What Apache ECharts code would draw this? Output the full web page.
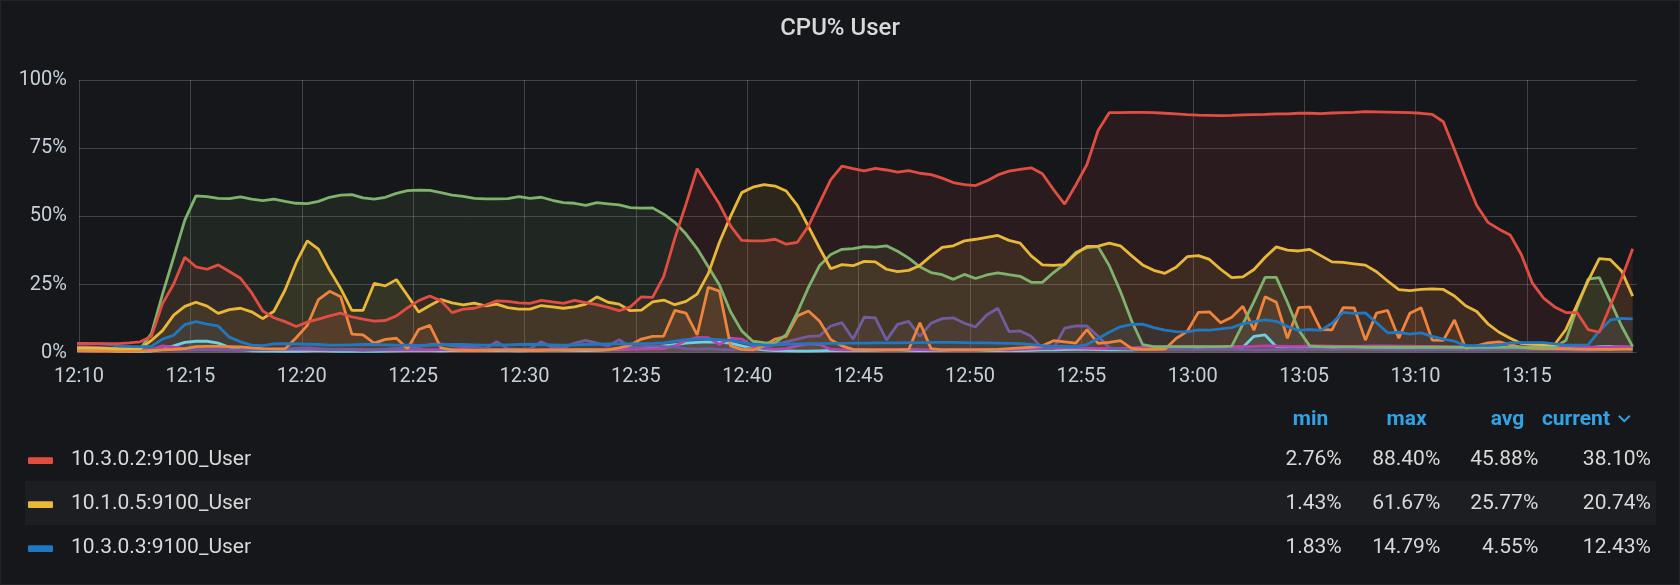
<!DOCTYPE html>
<html>
<head>
<meta charset="utf-8">
<script src="https://cdn.jsdelivr.net/npm/echarts@6/dist/echarts.min.js"></script>
<style>
html,body{margin:0;padding:0;background:#16171a;}
#c{width:1680px;height:585px;}
</style>
</head>
<body>
<div id="c"></div>
<script>
// ---- data (values in %, one sample every 30 s starting 12:09:45) ----
const xTickLabels = ['12:10','12:15','12:20','12:25','12:30','12:35','12:40','12:45','12:50','12:55','13:00','13:05','13:10','13:15'];

const red = [3.4,3.4,3.3,3.3,3.3,3.6,4.0,6.0,18.0,25.2,
35,31.5,30.6,32.2,29.8,27.3,22,15.3,12.8,11.4,
9.6,11.2,12.3,13.5,14.5,13.1,12.3,11.6,11.8,13.5,
16.5,19.1,20.8,19,14.7,16,16.3,17.5,19,18.8,
18.3,18.1,19.2,18.6,18.1,19.2,18.4,17.6,16.6,15.4,
16.8,20.5,20.3,28,42,54.5,67.5,61,54.5,46.5,
41.2,41,41,41.6,39.8,40.5,46.5,55,63.5,68.4,
67.5,66.7,67.6,67,66.2,66.8,65.8,65.3,64,62.4,
61.6,61.3,63,65.2,66.6,67.2,67.8,65.6,59.8,54.5,
61.5,69,81.5,88,88,88.1,88.1,88,87.8,87.6,
87.3,87.1,87,86.9,87,87.2,87.3,87.4,87.6,87.6,
87.8,87.8,87.7,87.9,88,88.1,88.4,88.3,88.2,88.1,
88,87.8,87.4,84.7,74.5,64,54,47.8,45.3,43.2,
36,25.5,20,16.8,14.7,14.7,8.5,7.5,17.2,27.2,38.1];

const yellow = [1.8,1.8,1.7,1.6,1.43,1.5,1.5,4.5,8.1,13.8,
17.0,18.5,17.1,14.4,15.8,16.3,15.0,12.5,15.2,23.0,
33,41,38,30.3,23.5,15.5,15.5,25.4,24.5,26.8,
21,14.9,17.3,19.5,18.3,17.5,18.2,17.2,17.8,16.5,
16,16,17.3,16.8,16.3,16.8,17.8,20.5,18.5,17.8,
15.4,15.6,18.6,19.3,17.6,18.8,21.5,29,40.5,50,
58.7,60.7,61.67,61.1,59.3,54,46.2,38.3,30.8,32.3,
31.9,33.5,33.3,30.6,29.7,30.2,32,35.5,38.6,39.2,
41,41.6,42.3,43,41.2,40.2,35.5,32.2,32,32.3,
36.3,39,39.1,40.2,39.2,35.6,32.2,30.2,29.1,31.3,
35.2,35.6,34.2,30.6,27.5,27.8,30.5,35,38.8,37.6,
37.3,37.9,35.6,33.3,33.1,32.6,32.1,29.7,26.3,23.1,
22.8,23.2,23.4,23.2,20.8,17.2,15.1,10.6,7.5,5.3,
3.4,3.1,3,3,8.5,17.6,26.3,34.5,34.1,30,20.74];

const blue = [3.3,3.3,3.3,3.1,2.5,2.3,2.2,2.3,5.0,6.4,
10.3,11.4,10.5,9.8,5.7,4,2.8,2.6,3.2,3.3,
3.2,3.1,3,2.8,2.8,2.9,3.0,3.0,2.9,2.8,
2.8,2.7,2.8,2.9,3,3,2.9,2.8,2.8,2.9,
3,3.1,3,2.9,2.8,2.9,3,3.1,3.2,3.2,
3.2,3.3,3.4,3.6,4.2,4.8,5,5,4.8,4.5,
3.8,3,2.8,2.9,3.1,3.2,3.3,3.3,3.4,3.4,
3.5,3.5,3.6,3.6,3.6,3.7,3.7,3.8,3.8,3.8,
3.7,3.6,3.6,3.5,3.4,3.3,3,2.6,2.4,2.3,
2.2,3,5.2,7.5,9.5,10.4,10.5,9.2,8.3,7.7,
7.6,8.4,8.3,8.7,9.2,10.6,11.4,12,11.5,9.6,
8.2,8.5,8.2,10.8,14.79,14.4,14.6,11,7.3,7.5,
6.8,7.3,6,5,4.2,2.6,2.6,2.6,2.8,3.6,
3.7,3.7,3.7,3.2,2.8,2.8,2.9,8,12,12.6,12.43];

const green = [1.5,1.5,1.5,1.4,1.4,1.4,1.5,7,21.5,35,
48.6,57.5,57.2,56.6,56.5,57.1,56.3,55.8,56.3,55.5,
54.8,54.7,55.5,57,57.8,58,56.8,56.3,57,58.4,
59.4,59.6,59.5,58.7,57.8,57.3,56.6,56.4,56.4,56.5,
57.2,56.6,57,55.9,55,54.8,54,55,54.6,54.2,
53.2,53,53.1,50.8,47.8,43.5,38.2,31.5,24.8,15,
8,4.2,3.7,3.6,6.6,14.8,24,32,36,37.9,
38.2,38.9,38.7,39.2,37.2,34.7,31.5,29.4,28.6,26.9,
28.7,27.2,28.5,29.3,28.6,28,25.8,25.8,29.4,32.5,
36.8,38.5,38.9,32,22.5,11.8,3,2.2,2.2,2.2,
2.2,2.2,2.2,2.2,2.4,10.5,18.8,27.6,27.6,18.5,
8.4,2.5,2.2,2.1,2.1,2.1,2,2,2,2,
2,2,2,2,2,2,2,2,2,2,
2,2,2,2,4.5,16.5,27,27.5,18.8,9.8,2.2];

const orange = [0.8,0.7,0.6,0.6,0.5,0.5,0.6,0.8,1.0,1.2,
1.5,2.2,2.3,2.3,2.2,2.1,1.8,1.5,1.4,1.4,
5.5,10,19.5,22.5,20.5,6.8,6.5,3.5,4.9,5.3,
1.5,8.5,10,1.8,1,0.9,0.8,0.9,1,1,
1,0.9,0.9,1,1,1.1,1.1,1,1.1,1.8,
2.8,5,6,6.1,15.5,14.5,6.5,24,22.6,2.5,
1.2,1,2.5,5,6,13.5,15.3,11.5,4.8,2.5,
1.2,1.1,1,1,1,1.2,11,1.5,1,1,
1,1,1.1,1.2,1.5,1.8,2,2.5,4.4,4,
3.5,8.5,3.4,3.8,4.4,1.6,1.2,1.2,1.3,5.2,
7.8,14.8,15,11,13,17,8.3,20.5,18.5,5.3,
16.5,16.8,8.5,8.4,16.5,16.4,4.6,14.5,15.5,5.3,
14.5,16.5,4.6,4.5,12,1.6,2.5,3.6,4,3,
2,1.6,1.5,1.5,1.4,1.3,1.2,1.2,1.2,1.3,1.3];

const purple = [0.5,0.5,0.6,0.8,1,1,1.2,1.5,1.2,1,
1,1,1.3,1.2,1,0.9,1,1.1,1.2,1.4,
1.6,1.8,1.5,1.2,1,1,0.9,1,1.2,1.6,
1.8,2.2,3,3.2,2.5,2.2,2,1.5,4,1.5,
1.2,1.5,4,2,1.8,3.5,4.5,3.5,2.5,4.8,
2,2.2,2.5,2.2,2,1.5,1.3,1.5,1.2,1,
1.2,1.5,2,3,4,5,6,6.2,9.8,11,
5,13,12.8,4.6,10.4,11.5,6,10.8,12.5,12.8,
10.8,9.5,13.8,16.3,7.7,8,6,1.6,1.6,9,
9.8,9.8,6,1.8,1.4,1.3,1.2,1.2,1.3,1.2,
1.2,1.1,1.2,1.3,1.2,1.1,1,1,1.1,1.2,
1.2,1.3,1.2,1.1,1.2,1.3,1.2,1.1,1,1,
1,1.1,1,1.2,1.1,1,1,1.1,1.2,1.2,
1.3,1.2,1.1,1,1,0.9,0.9,1,1.2,1.4,1.5];

const magenta = [2.2,2.1,2,1.8,1.5,1.3,1.2,1.2,2.5,2,
1.5,1.2,1.1,1,1,1,1.1,1.1,1.2,1.2,
1.3,1.2,1.1,1,1.1,1.2,1.1,1,1,1,
1,1,1,1.1,1.2,1.3,1.3,1.2,1.1,1,
1,1,1.1,1.2,1,1,1.1,1.2,1.3,1.2,
1.2,1.3,1.4,1.5,2.5,4.5,5.6,5.5,3,5.3,
5,2.5,1.5,1.2,1.5,2.5,3.2,3,1.2,1,
1,1,1,1.1,1.2,1.2,1.1,1,1,1,
1,1.1,1.2,1.1,1,1.2,1.4,1.5,1.6,1.8,
1.8,1.7,1.6,1.5,1.6,1.8,2,2.1,2.1,2.2,
2.2,2.2,2.1,2.2,2.3,2.2,2.3,2.5,2.4,2.3,
2.3,2.4,2.5,2.4,2.3,2.3,2.4,2.5,2.5,2.4,
2.4,2.3,2.3,2.2,2.1,2,2,2.2,2.1,2,
2,2,2.1,2.2,2.5,2.2,2,2,2.1,2.3,2.2];

const lightBlue = [1.2,1.2,1,0.8,0.5,0.4,0.4,0.6,1.2,2.5,
3.8,4.2,4.2,3.5,2,1,0.7,0.6,0.6,0.5,
0.5,0.6,0.8,0.6,0.5,0.5,0.6,0.5,0.6,0.7,
0.8,0.9,0.8,0.7,0.8,0.9,1,0.9,0.8,0.8,
0.7,0.8,0.9,1,0.9,0.8,0.8,0.9,1,1.2,
1.5,1.8,2,2.5,3,3.5,3.8,4,3.8,3.5,
2.5,1.5,1,0.8,0.7,0.6,0.6,0.7,0.8,0.8,
0.8,0.8,0.9,1,1,0.9,0.8,0.8,0.9,1,
1,1,0.9,0.8,0.8,0.8,0.9,1,1,1.1,
1.2,1.2,1.1,1,1,1,1.2,1.4,1.5,1.5,
1.6,1.7,1.8,1.9,2,2,6,6.5,2.2,1.9,
2,1.8,1.7,1.6,1.7,1.8,1.7,1.6,1.5,1.5,
1.5,1.6,1.5,1.4,1.3,1.4,1.5,1.6,1.7,1.8,
1.8,1.7,1.6,1.5,1.5,1.6,1.7,2.2,2.3,2,1.8];

// legend table
const legendNames = ['10.3.0.2:9100_User','10.1.0.5:9100_User','10.3.0.3:9100_User'];
const legendColors = ['#E24D42','#EAB839','#1F78C1'];
const statMin = ['2.76%','1.43%','1.83%'];
const statMax = ['88.40%','61.67%','14.79%'];
const statAvg = ['45.88%','25.77%','4.55%'];
const statCurrent = ['38.10%','20.74%','12.43%'];
const statHeaders = ['min','max','avg','current'];

// minutes after 12:10 for each sample
const minutes = red.map((_, i) => -0.25 + 0.5 * i);

const seriesDefs = [
  {name:'10.2.0.9:9100_User', color:'#6ED0E0', data: lightBlue},
  {name:'10.2.0.4:9100_User', color:'#BA43A9', data: magenta},
  {name:'10.1.0.7:9100_User', color:'#705DA0', data: purple},
  {name:'10.1.0.3:9100_User', color:'#EF843C', data: orange},
  {name:'10.1.0.2:9100_User', color:'#7EB26D', data: green},
  {name:'10.1.0.5:9100_User', color:'#EAB839', data: yellow},
  {name:'10.3.0.3:9100_User', color:'#1F78C1', data: blue},
  {name:'10.3.0.2:9100_User', color:'#E24D42', data: red}
];

const chart = echarts.init(document.getElementById('c'), null, {renderer:'canvas'});

const gridLeft = 79, gridRight = 43.3, gridTop = 80, gridBottom = 232.3;
const FONT = 'Roboto, "Noto Sans", sans-serif';
const gridColor = 'rgba(255,255,255,0.19)';

// legend graphics
const graphics = [];
graphics.push({type:'rect', shape:{x:0.5,y:0.5,width:1679,height:584}, style:{fill:'none', stroke:'#222428', lineWidth:1}, silent:true});
const rowC = [459.5, 503.5, 547.5];
graphics.push({type:'rect', shape:{x:25,y:481,width:1631,height:44}, style:{fill:'#1d1e22'}, silent:true, z:-1});
const valRight = [1341.7, 1440.3, 1538.3, 1651];
const headRight = [1328.3, 1426.7, 1524.3, 1610];
statHeaders.forEach((h, k) => {
  graphics.push({type:'text', x: headRight[k], y: 419.8, style:{text:h, fill:'#33a2e5', font:'bold 21px ' + FONT, textAlign:'right', textVerticalAlign:'middle'}});
});
graphics.push({type:'polyline', shape:{points:[[1618.8,415.8],[1624.3,421.2],[1629.8,415.8]]}, style:{stroke:'#33a2e5', lineWidth:2, fill:'none'}});
legendNames.forEach((n, r) => {
  const c = rowC[r];
  graphics.push({type:'rect', shape:{x:28, y:c-2.2, width:25, height:6.6, r:1}, style:{fill:legendColors[r]}});
  graphics.push({type:'text', x:71, y:c, style:{text:n, fill:'#d8d9da', font:'21px ' + FONT, textVerticalAlign:'middle'}});
  [statMin[r], statMax[r], statAvg[r], statCurrent[r]].forEach((v, k) => {
    graphics.push({type:'text', x:valRight[k], y:c, style:{text:v, fill:'#d8d9da', font:'21px ' + FONT, textAlign:'right', textVerticalAlign:'middle'}});
  });
});

const option = {
  backgroundColor: '#16171a',
  animation: false,
  title: {
    text: 'CPU% User', left: 'center', top: 12,
    textStyle: {color:'#d8d9da', fontSize:24, fontWeight:500, fontFamily: FONT}
  },
  grid: {left: gridLeft, right: gridRight, top: gridTop, bottom: gridBottom, containLabel: false},
  xAxis: {
    type: 'value', min: 0, max: 69.93, interval: 5,
    axisLine: {show:false}, axisTick: {show:false},
    splitLine: {show:true, showMaxLine:false, lineStyle:{color:gridColor, width:1}},
    axisLabel: {
      color:'#c7d0d9', fontSize:20, fontFamily: FONT, margin: 14, showMaxLabel: false,
      formatter: v => { const k = Math.round(v / 5); return (Math.abs(v - k*5) < 1e-6 && xTickLabels[k]) ? xTickLabels[k] : ''; }
    }
  },
  yAxis: {
    type: 'value', min: 0, max: 100, interval: 25,
    axisLine: {show:false}, axisTick: {show:false},
    splitLine: {show:true, lineStyle:{color:gridColor, width:1}},
    axisLabel: {color:'#c7d0d9', fontSize:20, fontFamily: FONT, margin: 12, formatter: '{value}%'}
  },
  series: seriesDefs.map(s => ({
    name: s.name, type: 'line', symbol: 'none', smooth: false, clip: true,
    data: minutes.map((t, i) => [t, s.data[i]]),
    lineStyle: {color: s.color, width: 2.8},
    itemStyle: {color: s.color},
    areaStyle: {color: s.color, opacity: 0.1, origin: 'start'},
    emphasis: {disabled: true}
  })),
  graphic: graphics
};
chart.setOption(option);
</script>
</body>
</html>
